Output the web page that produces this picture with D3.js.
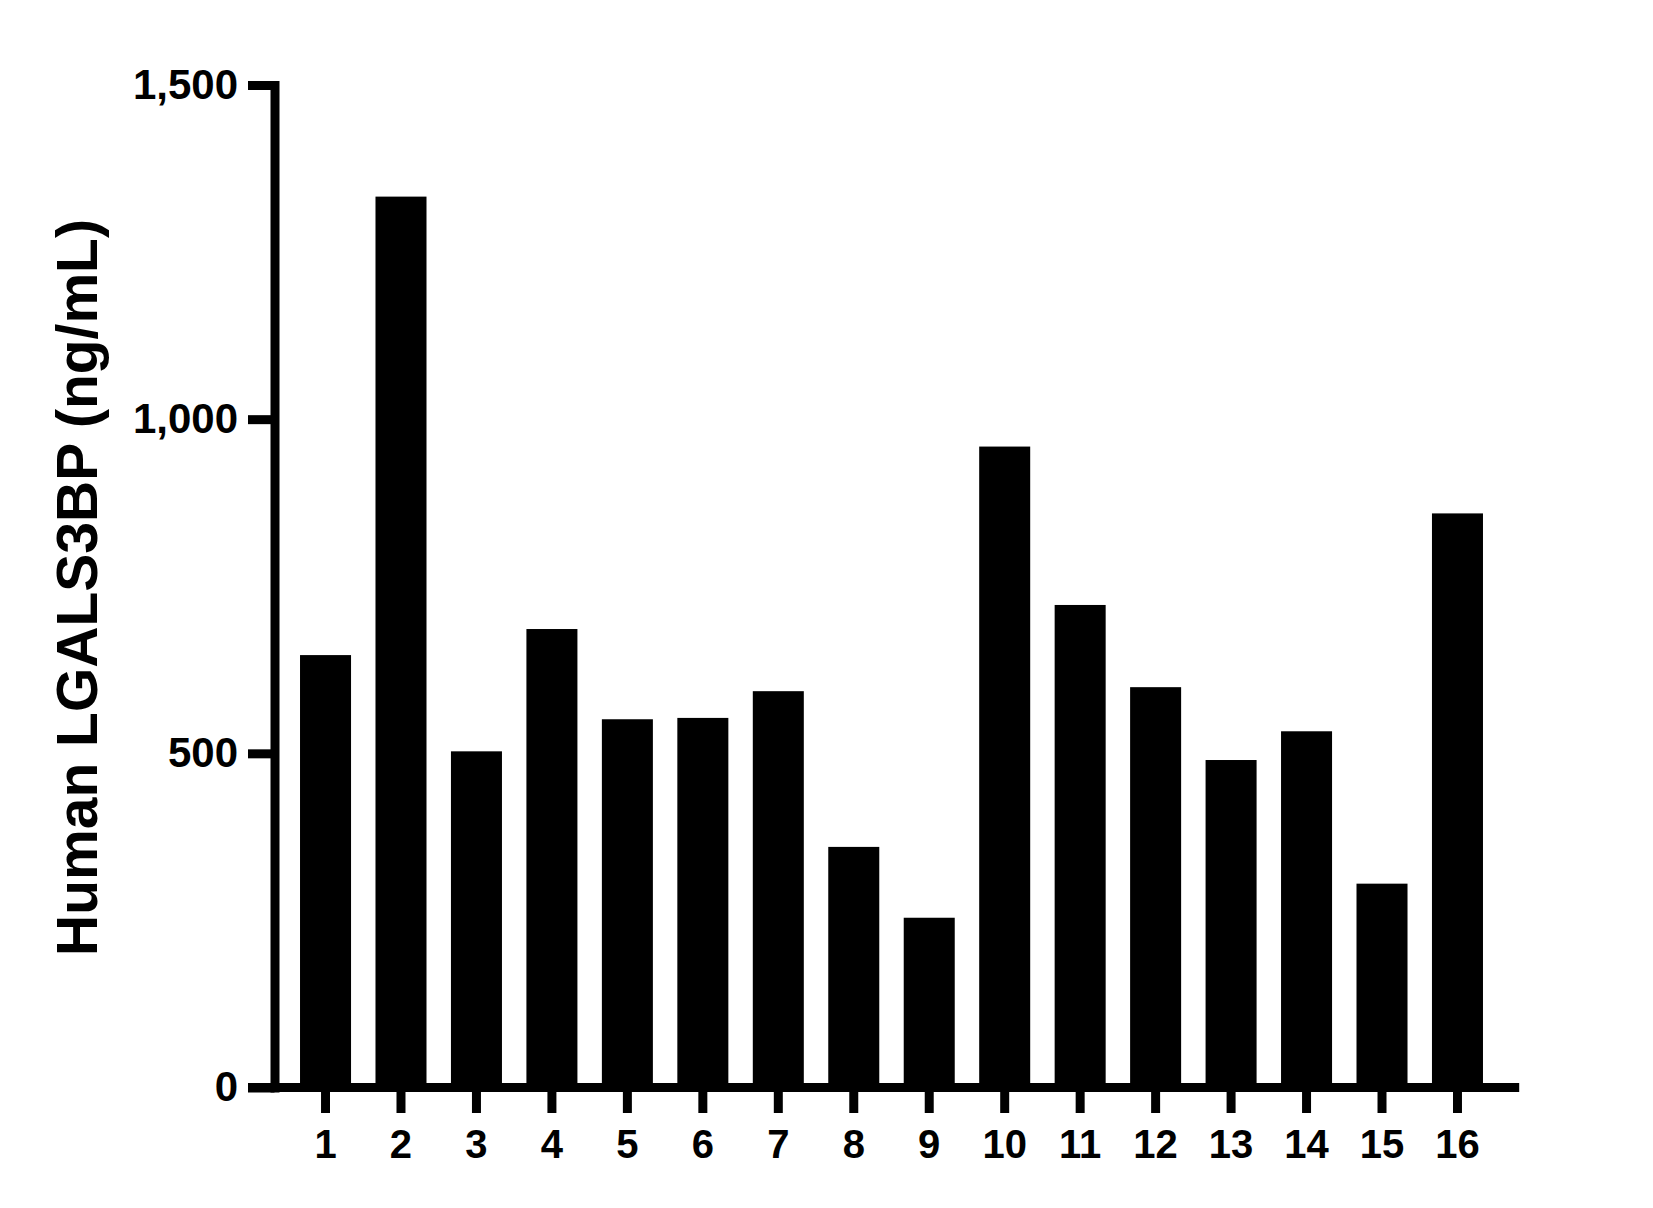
<!DOCTYPE html>
<html>
<head>
<meta charset="utf-8">
<script src="https://cdn.jsdelivr.net/npm/d3@7"></script>
<style>
    body { margin: 0; background: #fff; }
    svg { display: block; font-family: "Liberation Sans", Arial, sans-serif; font-weight: bold; }
</style>
</head>
<body>
<div id="chart"></div>
<script>
// data
const samples = ['1', '2', '3', '4', '5', '6', '7', '8', '9', '10', '11', '12', '13', '14', '15', '16'];
const lgals3bp = [647, 1333, 503, 686, 551, 553, 593, 360, 254, 959, 722, 599, 490, 533, 305, 859];
const yTicks = [0, 500, 1000, 1500];
const yTitle = 'Human LGALS3BP (ng/mL)';

function main() {
    // set dimensions
    const w = 1653;
    const h = 1208;
    const axisX = 274.5;
    const axisY = 1087.5;
    const top = 85;
    const lineW = 9;

    const dataset = samples.map((s, i) => ({ name: s, value: lgals3bp[i] }));

    // x scale
    const x_scale = d3
        .scaleBand()
        .domain(samples)
        .range([287.8, 1495.2])
        .paddingInner(0.324)
        .paddingOuter(0.162);

    // y scale
    const y_scale = d3
        .scaleLinear()
        .domain([0, 1500])
        .range([axisY, top]);

    const svg = d3
        .select('#chart')
        .append('svg')
        .attr('width', w)
        .attr('height', h);

    // bars
    svg
        .selectAll('rect.bar')
        .data(dataset)
        .enter()
        .append('rect')
        .attr('class', 'bar')
        .attr('x', d => x_scale(d.name))
        .attr('y', d => y_scale(d.value))
        .attr('width', x_scale.bandwidth())
        .attr('height', d => y_scale(0) - y_scale(d.value))
        .attr('fill', '#000');

    // y axis
    const yTickLen = 26.5;
    const y_axis = svg
        .append('g')
        .attr('transform', `translate(${axisX}, 0)`)
        .call(d3.axisLeft(y_scale)
            .tickValues(yTicks)
            .tickFormat(d3.format(','))
            .tickSize(yTickLen)
            .tickSizeOuter(0)
            .tickPadding(10));
    y_axis.select('.domain')
        .attr('stroke', '#000')
        .attr('stroke-width', lineW)
        .attr('stroke-linecap', 'square');
    y_axis.selectAll('.tick line')
        .attr('stroke', '#000')
        .attr('stroke-width', lineW);
    y_axis.selectAll('.tick text')
        .attr('fill', '#000')
        .style('font-size', '42px')
        .style('font-weight', 'bold')
        .style('font-family', '"Liberation Sans", Arial, sans-serif');

    // x axis
    const x_axis = svg
        .append('g')
        .attr('transform', `translate(0, ${axisY})`)
        .call(d3.axisBottom(x_scale)
            .tickSize(25.5)
            .tickSizeOuter(0)
            .tickPadding(16.5));
    x_axis.select('.domain').remove();
    x_axis.selectAll('.tick line')
        .attr('stroke', '#000')
        .attr('stroke-width', lineW);
    x_axis.selectAll('.tick text')
        .attr('fill', '#000')
        .style('font-size', '40px')
        .style('font-weight', 'bold')
        .style('font-family', '"Liberation Sans", Arial, sans-serif');

    // baseline runs from the y tick ends to past the last bar
    x_axis
        .append('line')
        .attr('x1', axisX - yTickLen)
        .attr('x2', x_scale.range()[1] + 24)
        .attr('y1', 0)
        .attr('y2', 0)
        .attr('stroke', '#000')
        .attr('stroke-width', lineW);

    // y title
    svg
        .append('text')
        .attr('transform', `translate(97, ${(217 + 958) / 2}) rotate(-90)`)
        .attr('text-anchor', 'middle')
        .attr('fill', '#000')
        .style('font-size', '57px')
        .text(yTitle);
}

main();
</script>
</body>
</html>
